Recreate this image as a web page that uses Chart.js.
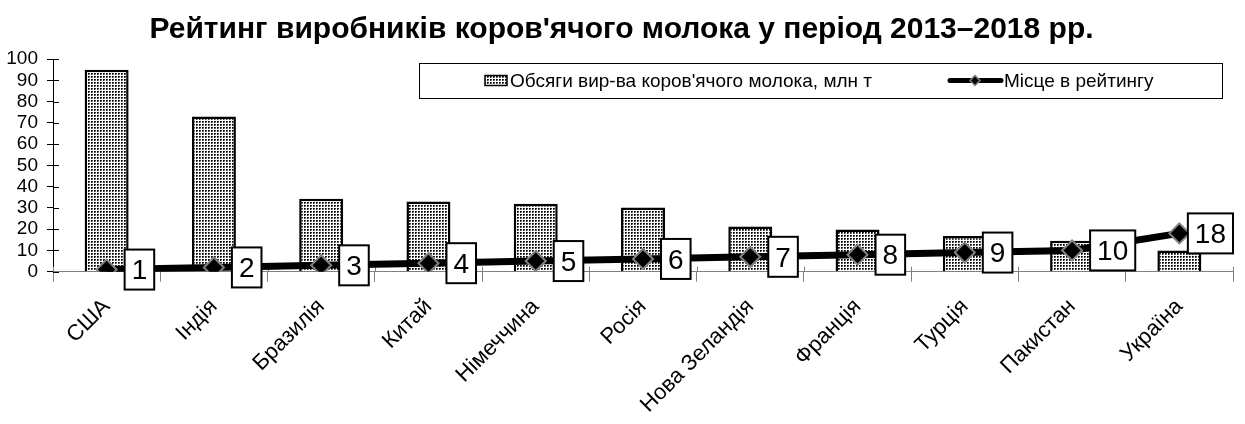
<!DOCTYPE html>
<html><head><meta charset="utf-8">
<script src="https://cdn.jsdelivr.net/npm/chart.js@4.4.1/dist/chart.umd.min.js"></script>
<style>html,body{margin:0;padding:0;background:#fff;overflow:hidden}#wrap{width:1245px;height:424px;position:relative}canvas{display:block}</style>
</head><body><div id="wrap"><canvas id="c" width="1245" height="424"></canvas></div>
<script>
const categories = ['США','Індія','Бразилія','Китай','Німеччина','Росія','Нова Зеландія','Франція','Турція','Пакистан','Україна'];
const milkVolume = [95, 73, 34.3, 33, 32, 30.2, 21.2, 19.8, 16.8, 14.6, 10];
const ranking = [1, 2, 3, 4, 5, 6, 7, 8, 9, 10, 18];
const titleText = 'Рейтинг виробників коров\'ячого молока у період 2013–2018 рр.';
const barSeriesName = 'Обсяги вир-ва коров\'ячого молока, млн т';
const lineSeriesName = 'Місце в рейтингу';
const yMin = 0, yMax = 100, yStep = 10;

const FONT = '"Liberation Sans", Arial, sans-serif';

function makePattern() {
  const p = document.createElement('canvas');
  p.width = 3; p.height = 3;
  const g = p.getContext('2d');
  g.fillStyle = '#fff'; g.fillRect(0, 0, 3, 3);
  g.fillStyle = '#000'; g.fillRect(1, 1, 1, 1);
  g.fillStyle = '#333'; g.fillRect(2, 1, 1, 1); g.fillRect(1, 2, 1, 1);
  g.fillStyle = '#888'; g.fillRect(2, 2, 1, 1);
  return document.getElementById('c').getContext('2d').createPattern(p, 'repeat');
}
const pattern = makePattern();

const crossTicks = {
  id: 'crossTicks',
  beforeDatasetsDraw(chart) {
    const ctx = chart.ctx, x = chart.scales.x, y = chart.scales.y;
    ctx.save();
    ctx.lineWidth = 1;
    ctx.strokeStyle = '#000';
    y.ticks.forEach((t, i) => {
      const py = Math.round(y.getPixelForTick(i)) + 0.5;
      ctx.beginPath(); ctx.moveTo(x.left, py); ctx.lineTo(x.left + 6, py); ctx.stroke();
    });
    ctx.strokeStyle = '#808080';
    for (let i = 0; i <= categories.length; i++) {
      const px = Math.round(x.left + (x.right - x.left) * i / categories.length) + 0.5;
      ctx.beginPath(); ctx.moveTo(px, x.top); ctx.lineTo(px, x.top - 5); ctx.stroke();
    }
    ctx.restore();
  }
};

const labelsAndLegend = {
  id: 'labelsAndLegend',
  afterDraw(chart) {
    const ctx = chart.ctx;
    const meta = chart.getDatasetMeta(1);
    ctx.save();
    ctx.font = '28px ' + FONT;
    ctx.textBaseline = 'middle';
    ctx.textAlign = 'left';
    meta.data.forEach((pt, i) => {
      const txt = String(ranking[i]);
      const w = ctx.measureText(txt).width + 14;
      const h = 40;
      let bx = pt.x + 18;
      if (bx + w > chart.chartArea.right) bx = chart.chartArea.right - w;
      const by = pt.y - h / 2;
      ctx.fillStyle = '#fff';
      ctx.fillRect(bx, by, w, h);
      ctx.lineWidth = 2;
      ctx.strokeStyle = '#000';
      ctx.strokeRect(bx, by, w, h);
      ctx.fillStyle = '#000';
      ctx.fillText(txt, bx + 7, pt.y + 2);
    });
    // legend
    const L = 419, T = 63, R = 1222, B = 98;
    ctx.fillStyle = '#fff';
    ctx.fillRect(L, T, R - L, B - T);
    ctx.lineWidth = 1;
    ctx.strokeStyle = '#000';
    ctx.strokeRect(L + 0.5, T + 0.5, R - L, B - T);
    const cy = (T + B) / 2;
    ctx.fillStyle = pattern;
    ctx.fillRect(485, cy - 5, 22, 10);
    ctx.strokeStyle = '#000'; ctx.lineWidth = 1.5;
    ctx.strokeRect(485, cy - 5, 22, 10);
    ctx.font = '19px ' + FONT;
    ctx.fillStyle = '#000';
    ctx.fillText(barSeriesName, 510, cy + 1);
    ctx.lineWidth = 5; ctx.lineCap = 'round';
    ctx.beginPath(); ctx.moveTo(950, cy); ctx.lineTo(1001, cy); ctx.stroke();
    ctx.beginPath();
    ctx.moveTo(975, cy - 5); ctx.lineTo(980, cy); ctx.lineTo(975, cy + 5); ctx.lineTo(970, cy); ctx.closePath();
    ctx.fillStyle = '#000'; ctx.fill();
    ctx.lineWidth = 1.5; ctx.strokeStyle = '#808080'; ctx.stroke();
    ctx.fillStyle = '#000';
    ctx.fillText(lineSeriesName, 1004, cy + 1);
    ctx.restore();
  }
};

new Chart(document.getElementById('c'), {
  data: {
    labels: categories,
    datasets: [
      {
        type: 'bar', label: barSeriesName, data: milkVolume, order: 2,
        backgroundColor: pattern, borderColor: '#000', borderWidth: 2.5,
        categoryPercentage: 1, barPercentage: 0.41
      },
      {
        type: 'line', label: lineSeriesName, data: ranking, order: 1,
        borderColor: '#000', borderWidth: 7, tension: 0, fill: false,
        pointStyle: 'rectRot', pointRadius: 10, pointHoverRadius: 10,
        pointBackgroundColor: '#000', pointBorderColor: '#808080', pointBorderWidth: 2
      }
    ]
  },
  options: {
    responsive: false, animation: false, devicePixelRatio: 1,
    layout: { padding: { left: 0, right: 2, top: 0, bottom: 0 } },
    plugins: {
      legend: { display: false },
      tooltip: { enabled: false },
      title: {
        display: true, text: titleText, color: '#000',
        font: { family: FONT, size: 30, weight: 'bold', lineHeight: 1.2 },
        padding: { top: 12, bottom: 11 }
      }
    },
    scales: {
      x: {
        type: 'category', offset: true,
        grid: { offset: true, drawOnChartArea: false, tickLength: 10, color: '#808080' },
        border: { color: '#808080', width: 1 },
        ticks: { maxRotation: 45, minRotation: 45, autoSkip: false, color: '#000', padding: 12,
                 font: { family: FONT, size: 22 } },
        afterFit(s) { s.height = 152.3; }
      },
      y: {
        min: yMin, max: yMax,
        grid: { drawOnChartArea: false, tickLength: 6, color: '#000' },
        border: { color: '#000', width: 1 },
        ticks: { stepSize: yStep, autoSkip: false, color: '#000', padding: 9, font: { family: FONT, size: 19 } },
        afterFit(s) { s.width = 53; }
      }
    }
  },
  plugins: [crossTicks, labelsAndLegend]
});
</script></body></html>
